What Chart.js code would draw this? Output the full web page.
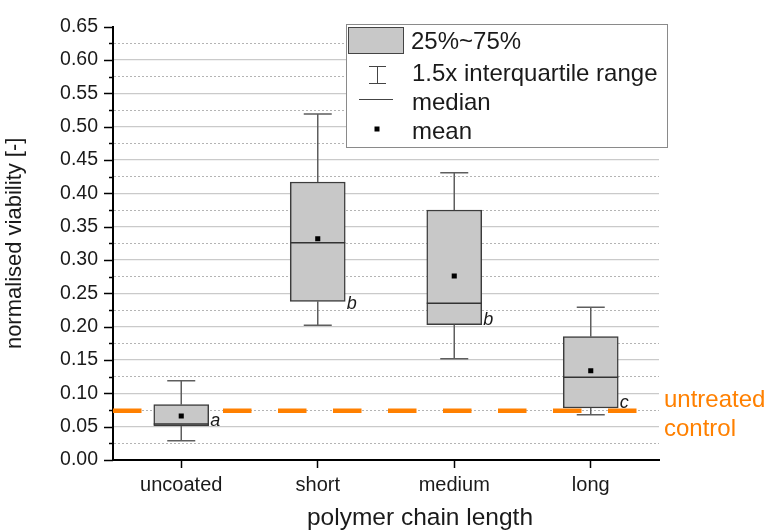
<!DOCTYPE html>
<html>
<head>
<meta charset="utf-8">
<script src="https://cdn.jsdelivr.net/npm/chart.js@4.4.1/dist/chart.umd.min.js"></script>
<style>
  html, body { margin: 0; padding: 0; background: #fff; }
</style>
</head>
<body>
<canvas id="chart" width="769" height="530"></canvas>
<script>
// box plot values
const categories = ['uncoated', 'short', 'medium', 'long'];
const whiskerLow = [0.029, 0.202, 0.152, 0.068];
const q1 = [0.051, 0.238, 0.203, 0.078];
const median = [0.054, 0.326, 0.235, 0.124];
const q3 = [0.083, 0.417, 0.375, 0.185];
const whiskerHigh = [0.119, 0.519, 0.431, 0.229];
const mean = [0.066, 0.332, 0.276, 0.134];
const groupLetters = ['a', 'b', 'b', 'c'];
const letterValues = [0.051, 0.226, 0.203, 0.078];
const controlValue = 0.074;

const FONT = '"Liberation Sans", Arial, sans-serif';
const TEXT = '#1a1a1a';
const ORANGE = '#ff8000';
Chart.defaults.font.family = FONT;
Chart.defaults.color = TEXT;

function isMajor(v) {
    return Math.round(v * 1000) % 50 === 0;
}

const boxExtras = {
    id: 'boxExtras',
    beforeDatasetsDraw(chart) {
        // untreated control line sits behind the boxes
        const {ctx, chartArea, scales: {y}} = chart;
        const py = y.getPixelForValue(controlValue);
        ctx.save();
        ctx.strokeStyle = ORANGE;
        ctx.lineWidth = 4.5;
        ctx.setLineDash([28.5, 26.5]);
        ctx.beginPath();
        ctx.moveTo(chartArea.left, py);
        ctx.lineTo(chartArea.right - 2, py);
        ctx.stroke();
        ctx.restore();
    },
    afterDatasetDraw(chart, args) {
        if (args.index !== 0) return;
        const {ctx, scales: {x, y}} = chart;
        const bars = chart.getDatasetMeta(0).data;
        ctx.save();
        categories.forEach((c, i) => {
            const px = x.getPixelForValue(i);
            const half = bars[i].width / 2;
            const hi = y.getPixelForValue(whiskerHigh[i]);
            const lo = y.getPixelForValue(whiskerLow[i]);
            ctx.strokeStyle = '#5e5e5e';
            ctx.lineWidth = 1.5;
            ctx.beginPath();
            ctx.moveTo(px, y.getPixelForValue(q3[i]));
            ctx.lineTo(px, hi);
            ctx.moveTo(px, y.getPixelForValue(q1[i]));
            ctx.lineTo(px, lo);
            ctx.moveTo(px - 14, hi);
            ctx.lineTo(px + 14, hi);
            ctx.moveTo(px - 14, lo);
            ctx.lineTo(px + 14, lo);
            ctx.stroke();

            const pm = y.getPixelForValue(median[i]);
            ctx.strokeStyle = '#333';
            ctx.beginPath();
            ctx.moveTo(px - half, pm);
            ctx.lineTo(px + half, pm);
            ctx.stroke();

            ctx.fillStyle = TEXT;
            ctx.font = 'italic 18px ' + FONT;
            ctx.textAlign = 'left';
            ctx.textBaseline = 'alphabetic';
            ctx.fillText(groupLetters[i], px + half + 1.5, y.getPixelForValue(letterValues[i]));
        });
        ctx.restore();
    },
    afterDraw(chart) {
        const {ctx, scales: {y}} = chart;
        ctx.save();

        // y tick marks, long for labelled values, short in between
        ctx.strokeStyle = '#000';
        ctx.lineWidth = 1.5;
        ctx.beginPath();
        y.ticks.forEach(t => {
            const py = Math.round(y.getPixelForValue(t.value)) + 0.5;
            ctx.moveTo(y.right, py);
            ctx.lineTo(y.right - (isMajor(t.value) ? 9 : 4), py);
        });
        ctx.stroke();

        // legend
        ctx.fillStyle = '#fff';
        ctx.fillRect(346, 24, 322, 124);
        ctx.strokeStyle = '#8a8a8a';
        ctx.lineWidth = 1;
        ctx.strokeRect(346.5, 24.5, 321, 123);

        ctx.fillStyle = '#c8c8c8';
        ctx.fillRect(348, 27, 56, 27);
        ctx.strokeStyle = '#444';
        ctx.strokeRect(348.5, 27.5, 55, 26);

        ctx.beginPath();
        ctx.moveTo(377.5, 66.5); ctx.lineTo(377.5, 83.5);
        ctx.moveTo(369, 66.5); ctx.lineTo(386, 66.5);
        ctx.moveTo(369, 83.5); ctx.lineTo(386, 83.5);
        ctx.moveTo(359, 99.5); ctx.lineTo(393, 99.5);
        ctx.stroke();
        ctx.fillStyle = '#000';
        ctx.fillRect(374.5, 126.5, 5, 5);

        ctx.fillStyle = TEXT;
        ctx.font = '24px ' + FONT;
        ctx.textAlign = 'left';
        ctx.textBaseline = 'alphabetic';
        ctx.fillText('25%~75%', 411, 48.6);
        ctx.fillText('1.5x interquartile range', 412, 81.2);
        ctx.fillText('median', 412, 110);
        ctx.fillText('mean', 412, 138.5);

        // control label
        ctx.fillStyle = ORANGE;
        ctx.fillText('untreated', 664, 406.5);
        ctx.fillText('control', 664, 435.5);

        // x axis title
        ctx.fillStyle = TEXT;
        ctx.font = '24.5px ' + FONT;
        ctx.textAlign = 'center';
        ctx.fillText('polymer chain length', 420, 524.5);
        ctx.restore();
    }
};

new Chart(document.getElementById('chart'), {
    type: 'bar',
    data: {
        labels: categories,
        datasets: [{
            type: 'bar',
            label: '25%~75%',
            data: q1.map((v, i) => [v, q3[i]]),
            backgroundColor: '#c8c8c8',
            borderColor: '#3c3c3c',
            borderWidth: 1.5,
            borderSkipped: false,
            barThickness: 55,
            order: 1
        }, {
            type: 'line',
            label: 'mean',
            data: mean,
            showLine: false,
            pointStyle: 'rect',
            pointRadius: 3.6,
            pointBackgroundColor: '#000',
            pointBorderWidth: 0,
            order: 0
        }]
    },
    options: {
        responsive: false,
        animation: false,
        layout: {
            padding: {top: 23, right: 110, bottom: 0, left: 0}
        },
        plugins: {
            legend: {display: false},
            tooltip: {enabled: false}
        },
        scales: {
            x: {
                offset: true,
                grid: {
                    display: true,
                    drawOnChartArea: false,
                    offset: false,
                    tickLength: 8,
                    tickColor: '#000',
                    tickWidth: 1.5
                },
                border: {color: '#000', width: 2},
                ticks: {padding: 5, font: {size: 20}},
                afterFit: s => { s.height = 70; }
            },
            y: {
                min: 0,
                max: 0.65,
                ticks: {
                    stepSize: 0.025,
                    autoSkip: false,
                    padding: 15,
                    font: {size: 19.5},
                    callback: v => isMajor(v) ? v.toFixed(2) : ''
                },
                grid: {
                    drawTicks: false,
                    color: c => {
                        if (!c.tick) return '#c8c8c8';
                        const v = c.tick.value;
                        if (v <= 0.0001 || v >= 0.649) return 'rgba(0,0,0,0)';
                        return isMajor(v) ? '#cacaca' : '#b4b4b4';
                    },
                    lineWidth: c => (c.tick && isMajor(c.tick.value)) ? 1.3 : 1
                },
                border: {
                    color: '#000',
                    width: 2,
                    dash: c => (c.tick && !isMajor(c.tick.value)) ? [2, 2] : []
                },
                title: {
                    display: true,
                    text: 'normalised viability [-]',
                    font: {size: 22},
                    padding: {top: 2, bottom: 0}
                },
                afterFit: s => { s.width = 113; }
            }
        }
    },
    plugins: [boxExtras]
});
</script>
</body>
</html>
